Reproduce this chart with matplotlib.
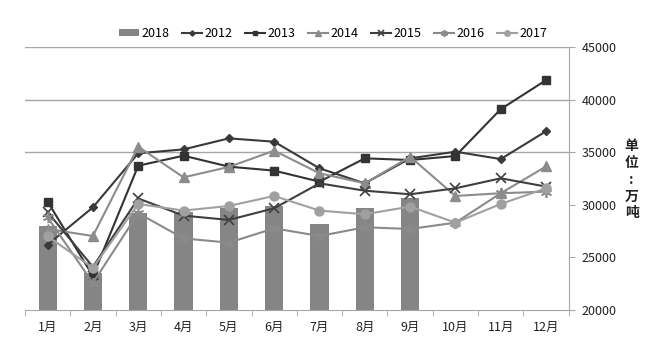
import matplotlib
matplotlib.use("Agg")
import matplotlib.pyplot as plt
import numpy as np

plt.rcParams['font.family'] = ['Noto Sans CJK SC', 'DejaVu Sans']

months = ["1月", "2月", "3月", "4月", "5月", "6月", "7月", "8月", "9月", "10月", "11月", "12月"]
y2018 = [28000, 23500, 29200, 29350, 29700, 29900, 28150, 29700, 30600]
y2012 = [26200, 29760, 34900, 35270, 36320, 36000, 33470, 32040, 34420, 35050, 34350, 37000]
y2013 = [30300, 23230, 33720, 34670, 33630, 33250, 32200, 34420, 34260, 34640, 39100, 41860]
y2014 = [27700, 27030, 35530, 32610, 33600, 35150, 33000, 32040, 34570, 30840, 31100, 33650]
y2015 = [29300, 24100, 30600, 28970, 28560, 29670, 32040, 31340, 31000, 31570, 32520, 31730]
y2016 = [28800, 22560, 29200, 26800, 26400, 27760, 27030, 27860, 27700, 28300, 31100, 31250]
y2017 = [27000, 24000, 30080, 29450, 29890, 30840, 29450, 29100, 29830, 28300, 30080, 31570]
yticks = [20000, 25000, 30000, 35000, 40000, 45000]

fig = plt.figure(figsize=(6.56, 3.49), dpi=100)
ax = fig.add_axes([0.038, 0.112, 0.829, 0.753])

x = np.arange(len(months))
hb = ax.bar(x[:len(y2018)], y2018, width=0.4, color='#858585', label='2018', zorder=2)

h12, = ax.plot(x, y2012, color='#3a3a3a', lw=1.5, marker='D', ms=4.5, label='2012', zorder=3)
h13, = ax.plot(x, y2013, color='#333333', lw=1.5, marker='s', ms=6, label='2013', zorder=3)
h14, = ax.plot(x, y2014, color='#8c8c8c', lw=1.5, marker='^', ms=6.5, label='2014', zorder=3)
h15, = ax.plot(x, y2015, color='#3f3f3f', lw=1.5, marker='x', ms=7, mew=1.2, label='2015', zorder=3)
h16, = ax.plot(x, y2016, color='#8a8a8a', lw=1.5, marker=(6, 2, 0), ms=8, mew=1.2, label='2016', zorder=3)
h17, = ax.plot(x, y2017, color='#a0a0a0', lw=1.5, marker='o', ms=6.5, label='2017', zorder=3)

ax.set_xlim(-0.5, 11.5)
ax.set_ylim(20000, 45000)
for v in [35000, 40000, 45000]:
    ax.axhline(v, color='#a6a6a6', lw=1.0, zorder=1)

ax.yaxis.tick_right()
ax.set_yticks(yticks)
ax.set_yticklabels([str(v) for v in yticks], fontsize=9, color='#222222')
ax.tick_params(axis='y', length=4, color='#a6a6a6', pad=5)

ax.set_xticks(x)
ax.set_xticklabels(months, fontsize=9, color='#222222')
ax.set_xticks(np.arange(-0.5, 12, 1), minor=True)
ax.tick_params(axis='x', which='major', length=0, pad=8)
ax.tick_params(axis='x', which='minor', length=4, color='#a6a6a6')

for s in ['top', 'left']:
    ax.spines[s].set_visible(False)
ax.spines['right'].set_color('#a6a6a6')
ax.spines['bottom'].set_color('#a6a6a6')

fig.text(0.963, 0.485, "单\n位\n:\n万\n吨", fontsize=10, fontweight='bold',
         ha='center', va='center', linespacing=1.25, color='#222222')

fig.legend([hb, h12, h13, h14, h15, h16, h17],
           ['2018', '2012', '2013', '2014', '2015', '2016', '2017'],
           loc='center', bbox_to_anchor=(0.508, 0.903), ncol=7, frameon=False,
           fontsize=9, handlelength=1.6, columnspacing=1.0, handletextpad=0.2,
           markerscale=0.6, handleheight=0.5)

fig.savefig('out.png', dpi=100)
